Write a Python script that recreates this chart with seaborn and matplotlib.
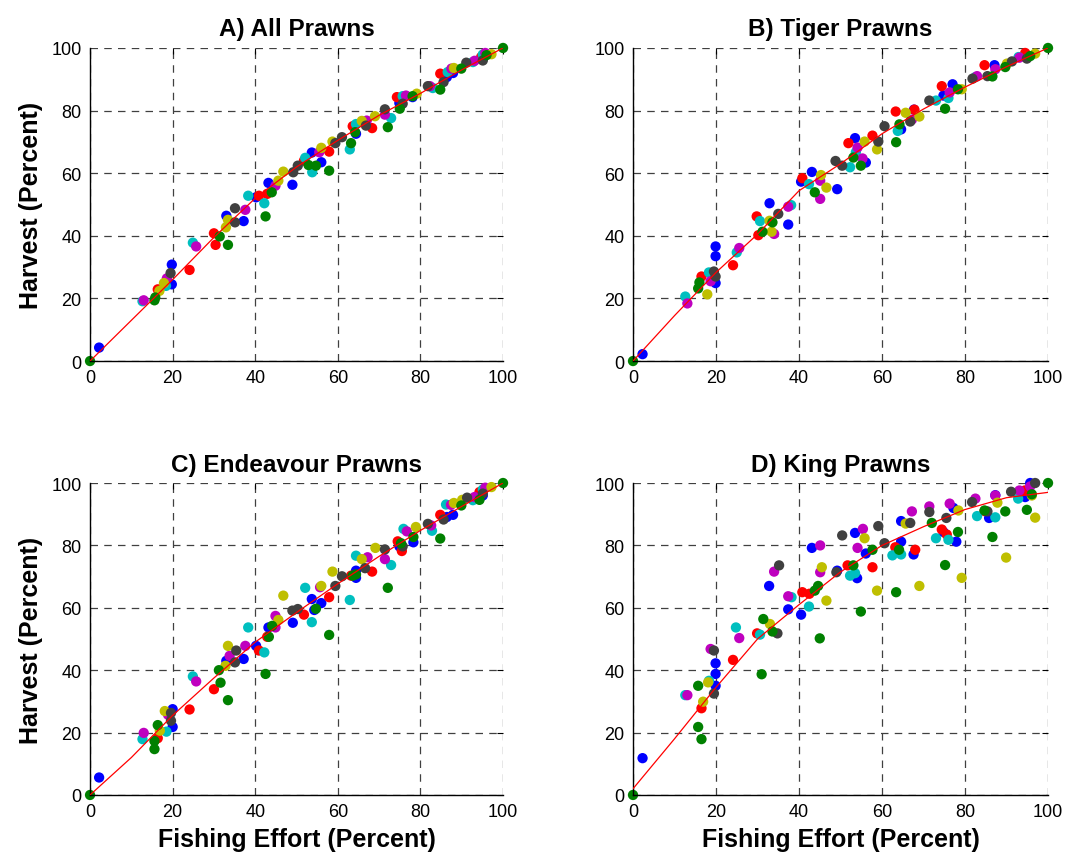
import numpy as np
import pandas as pd
import matplotlib
matplotlib.use('Agg')
import matplotlib.pyplot as plt
import seaborn as sns

# Colour groups (MATLAB style colours)
groups = ['blue', 'red', 'cyan', 'magenta', 'yellow', 'gray', 'green']
palette = {'blue': (0, 0, 1), 'green': (0, 0.5, 0), 'red': (1, 0, 0),
           'cyan': (0, 0.75, 0.75), 'magenta': (0.75, 0, 0.75),
           'yellow': (0.75, 0.75, 0), 'gray': (0.25, 0.25, 0.25)}

titles = ['A) All Prawns', 'B) Tiger Prawns', 'C) Endeavour Prawns', 'D) King Prawns']
ticks = [0, 20, 40, 60, 80, 100]

# Fitted curves, effort vs harvest
fit_x = [0, 10, 20, 30, 40, 50, 60, 70, 80, 90, 100]
fit_A = [0, 13, 26, 39.5, 52, 62, 70.5, 78.5, 85.5, 93, 100]
fit_B = [0, 14.5, 28.3, 40.5, 54.4, 63, 72.6, 80.5, 87.5, 94, 100]
fit_C = [0, 12, 25.5, 37.5, 49, 58.5, 67.7, 76.5, 84.8, 92.5, 100]
fit_D = [2, 18, 34.5, 50, 61, 71.5, 80, 86, 91.5, 95.3, 97]

# A) All prawns (effort, harvest)
A_blue = [(2.2,4.3),(19.8,30.8),(19.8,24.5),(43.2,56.9),(49,56.3),(40.2,52.3),(33,46.4),(37.2,44.7),(53.7,66.6),(56,63.5),(64.4,72.6),(74.9,82.4),(78.1,84.3),(86.4,90.7),(87.9,92),(95.1,96.6)]
A_green = [(15.6,19.4),(15.8,20.3),(31.4,39.8),(33.4,37.1),(42.5,46.2),(44,53.9),(52.9,62.6),(54.7,62.4),(57.9,60.8),(63.2,69.6),(64.2,73.1),(72.1,74.7),(75,80.6),(78.1,84.6),(84.8,86.7),(89.9,93.4),(96,97.7),(0,0),(100,100)]
A_red = [(16.4,22.9),(24.1,29.1),(30,40.8),(30.4,37.1),(40.9,52.8),(42.9,53.4),(51.8,64),(57.9,66.9),(63.6,75),(68.3,74.4),(74.3,84.3),(84.8,91.8),(94.7,97.1)]
A_cyan = [(12.7,19.1),(18.4,24),(24.9,37.8),(38.3,52.8),(42.2,50.4),(52.1,64.9),(53.8,60.3),(62.9,67.6),(64.4,75.7),(72.9,77.6),(75.7,84.6),(83,87.2),(86.6,92.3),(92.7,95.5),(95.1,97.9)]
A_magenta = [(13,19.4),(18.6,26.4),(25.7,36.6),(37.6,48.3),(44.9,56),(55.5,66.7),(67,76.8),(71.4,78.7),(76.5,84.8),(82.3,87.8),(87.5,93.4),(93.1,95.9),(95.7,98.4)]
A_yellow = [(16.8,22.4),(17.9,24.9),(32.9,42.7),(33.4,45.1),(45.6,57.6),(46.8,60.5),(56,68.1),(58.7,70.1),(65.8,76.7),(69,78.2),(79.1,85.4),(88.1,93.6),(97.2,98)]
A_gray = [(19.5,28.1),(35.1,48.8),(35.1,44.3),(49.2,60.3),(50.3,62.4),(59.4,69.6),(61,71.5),(66.8,75.2),(71.4,80.4),(75.7,82.2),(81.8,87.8),(85.6,89.1),(91.1,95.3),(95.1,96)]

# B) Tiger prawns
B_blue = [(2.3,2.2),(19.9,36.6),(19.9,33.5),(19.9,24.9),(32.9,50.4),(37.4,43.6),(40.5,57.3),(43.1,60.4),(49.2,54.9),(53.5,71.2),(56.1,63.4),(64.6,74),(67.7,80.3),(77,88.4),(74.8,84.8),(87.1,94.5),(94.9,97.4)]
B_green = [(15.7,23.2),(16,25.1),(31.2,41.3),(33.6,44.3),(43.8,53.9),(53.1,65),(54.9,62.4),(63.4,69.9),(64.2,75.6),(75.2,80.6),(78.3,86.8),(86.6,90.9),(89.7,93.9),(95.7,97.4),(0,0),(100,100)]
B_red = [(16.5,27),(24.1,30.6),(29.8,46.2),(30.2,40.2),(40.8,58.4),(51.9,69.6),(57.7,72),(63.3,79.7),(67.8,80.3),(74.4,87.8),(84.7,94.5),(94.5,98.4)]
B_cyan = [(12.6,20.6),(18.3,28.3),(25,34.7),(30.6,44.7),(38.1,49.8),(42.4,56.5),(52.3,61.9),(53.7,66.7),(63.8,73.5),(73,83.2),(76,84),(82.5,90.7),(92.9,97.1)]
B_magenta = [(13.1,18.4),(18.7,25.5),(25.6,36.1),(34,40.6),(37.4,49.3),(45.1,57.6),(45.1,51.8),(54.1,68.2),(55.3,64.7),(67.2,77.1),(76.3,85.8),(82.9,91),(87.3,93.2),(93.1,96.9)]
B_yellow = [(17.9,21.3),(32.9,44.8),(33.4,41.3),(45.3,59.4),(46.6,55.4),(55.8,70.1),(58.8,67.6),(65.7,79.3),(69,78.1),(79.2,86.8),(90.1,95),(96.9,98.2)]
B_gray = [(19.5,28.6),(19.9,27),(35,47),(48.8,63.9),(50.4,62.4),(59.1,70.1),(60.6,75),(66.8,76.5),(71.4,83.2),(81.8,90.2),(85.4,91),(91.3,95.7),(94.9,96.6)]

# C) Endeavour prawns
C_blue = [(2.2,5.6),(20,27.5),(20,21.8),(33,43),(37.2,43.6),(40.2,47.8),(43.2,53.7),(49.1,55.2),(53.7,62.8),(54.3,59.3),(56,61.5),(64.4,71.9),(64.4,69.6),(74.9,79.7),(78.3,81),(86.4,89.1),(87.9,89.8),(95.1,96)]
C_green = [(15.6,17.3),(15.6,14.7),(16.4,22.4),(31.2,40),(31.6,36),(33.4,30.4),(42.5,38.8),(43.3,50.7),(44.1,54.2),(54.7,59.7),(57.9,51.3),(63.6,70.3),(64.4,70.7),(72.1,66.4),(75.3,80.7),(78.3,82.7),(84.8,82.2),(89.9,92.8),(94.3,94.6),(0,0),(100,100)]
C_red = [(16.4,18.2),(24.1,27.4),(30,33.9),(40.9,46.3),(42.9,50.7),(51.8,57.8),(57.9,63.4),(63.2,70.3),(68.3,71.6),(74.5,81.3),(75.5,78.2),(84.8,89.8),(94.3,97.1)]
C_cyan = [(12.7,17.9),(18.5,20.3),(24.9,38),(38.3,53.7),(42.2,45.7),(52.1,66.4),(53.7,55.4),(62.9,62.5),(64.4,76.7),(72.9,73.7),(75.9,85.3),(82.8,84.7),(86.2,93.1),(92.7,94.5),(95.1,97.9)]
C_magenta = [(13,19.9),(18.9,25.7),(25.7,36.4),(33.8,44.6),(37.6,47.8),(44.9,57.4),(44.9,53.7),(55.7,66.6),(67.2,76.2),(71.4,75.6),(76.7,84.5),(82.6,86.4),(87.4,93),(93.1,95.5),(95.7,98.5)]
C_yellow = [(16.9,20.6),(18.1,26.9),(32.8,41.4),(33.4,47.8),(45.6,56.1),(46.8,63.9),(56,67),(58.7,71.6),(65.8,75.6),(69.1,79.2),(78.9,85.9),(88.1,93.6),(90.1,94.6),(97.2,98.7)]
C_gray = [(19.6,26.3),(19.6,23.8),(35.1,42.5),(35.4,46.3),(49,59.1),(50.3,59.6),(59.4,67),(61,70.1),(66.6,72.7),(71.4,78.7),(75.7,79.7),(81.8,86.9),(85.6,88.3),(91.3,95.3),(95.1,96.6)]

# D) King prawns
D_blue = [(2.3,11.8),(19.9,42.2),(19.9,38.8),(19.9,35),(32.8,67),(37.4,59.5),(40.5,57.8),(43.1,79.2),(49.2,71.9),(53.5,84),(54,69.5),(56.1,77.4),(64.6,87.8),(64.6,81.2),(67.6,77.1),(74.8,84.3),(77.2,92),(77.9,81.2),(85.8,88.8),(87.3,96.1),(94.5,95.5),(95.7,100)]
D_green = [(15.7,35),(15.7,21.8),(16.5,17.9),(31,38.7),(31.4,56.4),(33.6,52.4),(43.8,65.5),(44.6,67),(45,50.2),(53.1,73.6),(54.9,58.8),(57.7,78.6),(63.4,65),(64.1,78.6),(72,87.2),(75.2,73.7),(78.3,84.3),(84.7,91.2),(86.6,82.7),(89.7,90.9),(94.9,91.4),(96.1,96.4),(0,0),(100,100)]
D_red = [(16.5,27.8),(24.1,43.3),(29.9,51.8),(40.8,65),(42.5,64.5),(51.7,73.6),(57.7,73),(63.2,79.4),(68,78.6),(74.4,85.1),(75.6,83.5),(84.7,91),(94.4,97.6)]
D_cyan = [(12.6,32),(18.3,36.6),(24.8,53.7),(30.6,51.4),(38.2,63.4),(42.4,60.4),(52.3,70.3),(53.5,71.1),(62.5,76.8),(64.6,77.1),(73,82.3),(76,81.8),(82.9,89.4),(87.3,89),(92.8,95)]
D_magenta = [(13.1,32),(18.7,46.8),(25.6,50.3),(34,71.6),(37.4,63.7),(45.1,80),(45.1,71.4),(54.1,79.2),(55.4,85.3),(67.2,90.9),(71.4,92.5),(76.3,93.4),(82.5,95),(87.3,96),(93.1,97.6),(95.7,98.9)]
D_yellow = [(16.9,29.9),(18.1,36.1),(33,54.8),(45.5,73),(46.6,62.3),(55.8,82.3),(58.8,65.5),(65.7,87),(69,67),(78.4,91.2),(79.2,69.6),(87.8,93.7),(89.9,76.1),(96.9,88.9),(96.1,96)]
D_gray = [(19.5,46.3),(19.5,32.5),(35.2,73.6),(34.8,51.8),(50.4,83.2),(49,71.4),(59.1,86.2),(60.6,80.7),(66.8,87.2),(71.4,90.7),(75.5,88.8),(81.7,93.9),(85.4,90.9),(91.1,97.2),(96.9,100)]

panels = {
    'A': ({'blue': A_blue, 'green': A_green, 'red': A_red, 'cyan': A_cyan,
           'magenta': A_magenta, 'yellow': A_yellow, 'gray': A_gray}, fit_A),
    'B': ({'blue': B_blue, 'green': B_green, 'red': B_red, 'cyan': B_cyan,
           'magenta': B_magenta, 'yellow': B_yellow, 'gray': B_gray}, fit_B),
    'C': ({'blue': C_blue, 'green': C_green, 'red': C_red, 'cyan': C_cyan,
           'magenta': C_magenta, 'yellow': C_yellow, 'gray': C_gray}, fit_C),
    'D': ({'blue': D_blue, 'green': D_green, 'red': D_red, 'cyan': D_cyan,
           'magenta': D_magenta, 'yellow': D_yellow, 'gray': D_gray}, fit_D),
}

# long table of all points
rows = []
for key, (pts, _) in panels.items():
    for g in groups:
        for x, y in pts[g]:
            rows.append({'panel': key, 'group': g, 'effort': x, 'harvest': y})
df = pd.DataFrame(rows)

sns.set_theme(style='white')
plt.rcParams['font.family'] = ['Liberation Sans', 'DejaVu Sans']
plt.rcParams['text.color'] = 'black'
plt.rcParams['axes.labelcolor'] = 'black'

fig = plt.figure(figsize=(10.68, 8.62), dpi=100)
# axes boxes in figure fractions [left, bottom, width, height]
boxes = {'A': [0.0843, 0.580, 0.3867, 0.3632],
         'B': [0.5927, 0.580, 0.3886, 0.3632],
         'C': [0.0843, 0.0766, 0.3867, 0.3619],
         'D': [0.5927, 0.0766, 0.3886, 0.3619]}

for i, key in enumerate(['A', 'B', 'C', 'D']):
    ax = fig.add_axes(boxes[key])
    sub = df[df.panel == key]
    sns.scatterplot(data=sub, x='effort', y='harvest', hue='group',
                    palette=palette, hue_order=groups, s=55, linewidth=0,
                    legend=False, ax=ax, clip_on=False, zorder=2)
    sns.lineplot(x=fit_x, y=panels[key][1], color='red', linewidth=0.9,
                 ax=ax, zorder=3)
    ax.set_xlim(0, 100)
    ax.set_ylim(0, 100)
    ax.set_xticks(ticks)
    ax.set_yticks(ticks)
    ax.set_axisbelow(True)
    ax.grid(True, color='0.25', linestyle=(0, (6, 5)), linewidth=0.9)
    for side in ['top', 'right']:
        ax.spines[side].set_visible(False)
    for side in ['left', 'bottom']:
        ax.spines[side].set_color('black')
        ax.spines[side].set_linewidth(1.0)
    ax.tick_params(direction='in', top=True, right=True, length=4,
                   width=0.8, colors='black', labelsize=13, pad=6)
    ax.set_title(titles[i], fontsize=17.5, fontweight='bold', pad=9,
                 color='black')
    if key in ('A', 'C'):
        ax.set_ylabel('Harvest (Percent)', fontsize=18, fontweight='bold',
                      labelpad=6)
    else:
        ax.set_ylabel('')
    if key in ('C', 'D'):
        ax.set_xlabel('Fishing Effort (Percent)', fontsize=18,
                      fontweight='bold', labelpad=5)
    else:
        ax.set_xlabel('')

fig.savefig('out.png', dpi=100)
